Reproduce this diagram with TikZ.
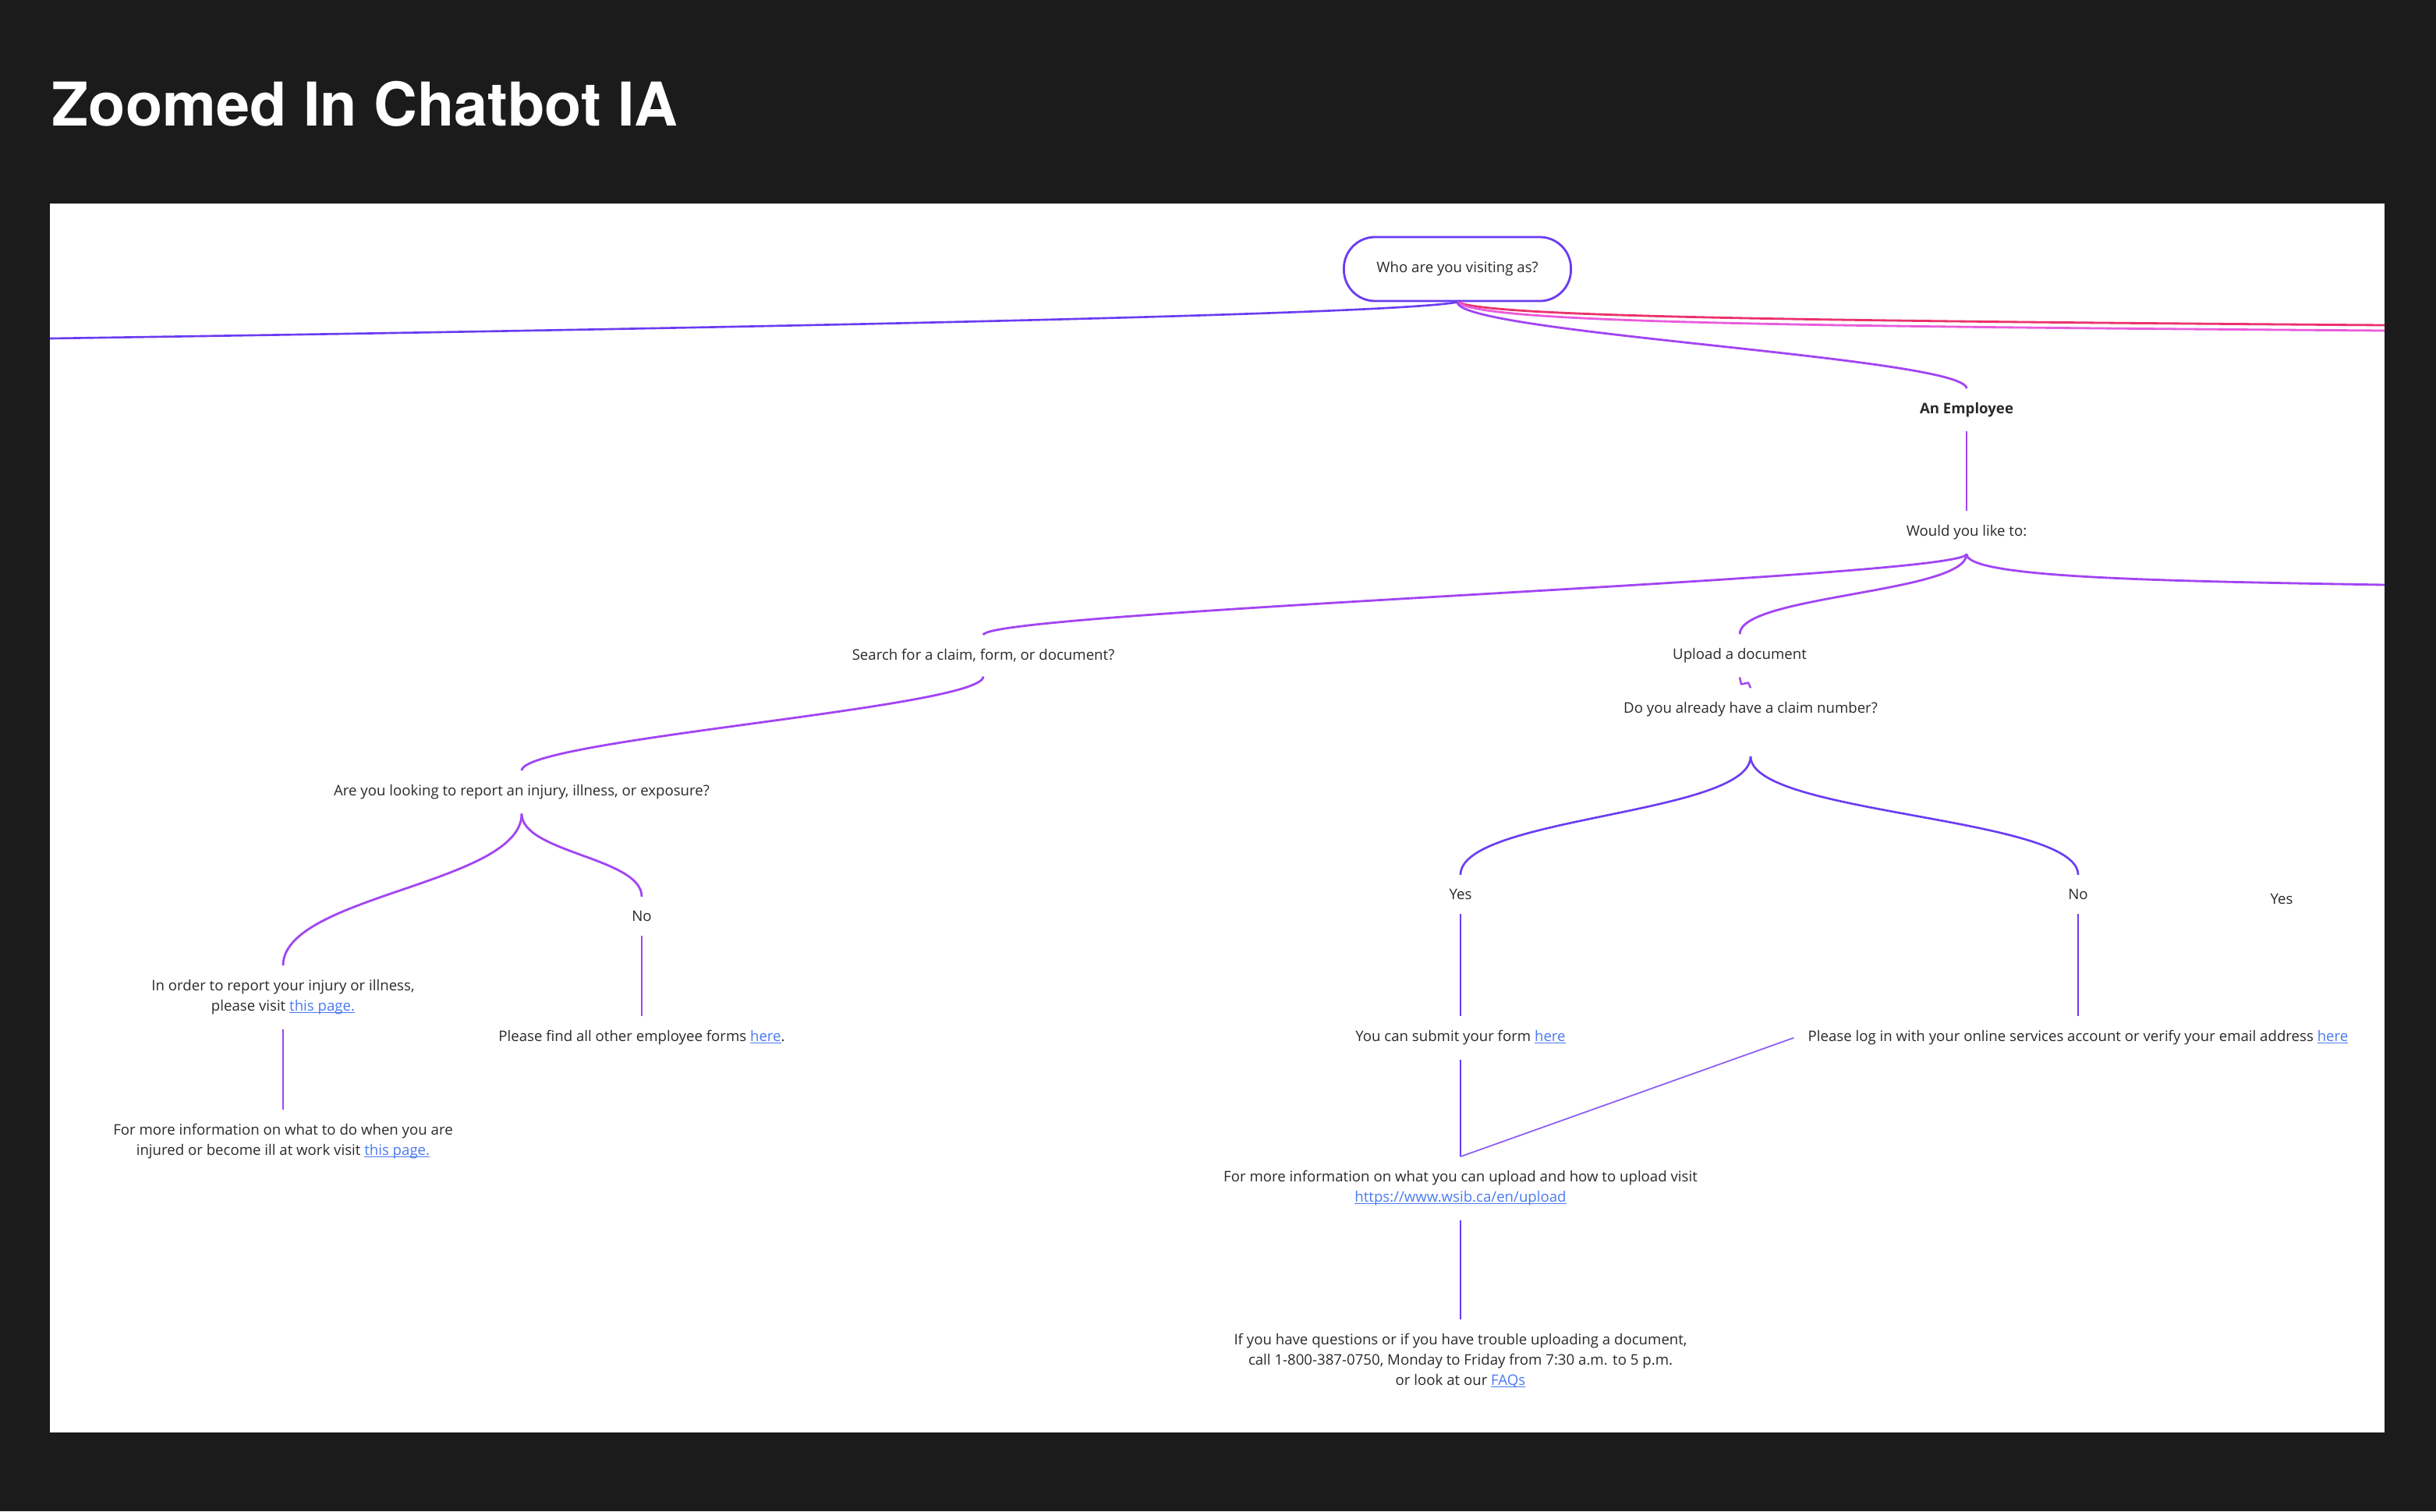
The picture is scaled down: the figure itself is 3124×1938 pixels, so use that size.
\documentclass[tikz,border=0pt]{standalone}
\usepackage{fontspec}
\usepackage{xcolor}
\setmainfont{Open Sans}
\newfontfamily\titlefont{TeX Gyre Heros}
\definecolor{bgdark}{HTML}{1B1B1B}
\definecolor{textgray}{HTML}{2A2A2A}
\definecolor{linkblue}{HTML}{4A7BF0}
\definecolor{bluevio}{HTML}{6B3CF2}
\definecolor{vio}{HTML}{A245F3}
\definecolor{liteviolet}{HTML}{8C5DF6}
\definecolor{crimson}{HTML}{EA336C}
\definecolor{rosepink}{HTML}{E95CDD}
\newsavebox{\lnkbox}
\newcommand{\lnk}[1]{{\color{linkblue}\sbox{\lnkbox}{#1}\rlap{\rule[-0.6pt]{\wd\lnkbox}{0.25pt}}\usebox{\lnkbox}}}

\begin{document}
\begin{tikzpicture}[x=0.01cm, y=-0.01cm, font=\fontsize{5.3}{7.4}\selectfont,
  txt/.style={inner sep=5pt, text=textgray, align=center, yshift=-1.1pt},
  startbox/.style={inner sep=5pt, text=textgray, draw=bluevio, line width=0.8pt, rounded corners=0.4cm, minimum width=2.91cm, minimum height=0.82cm},
  vline/.style={vio, line width=0.8pt},
  bline/.style={bluevio, line width=0.75pt}]
  \useasboundingbox (0,0) rectangle (3124,1938);
  \fill[bgdark] (0,0) rectangle (3124,1938);
  \fill[white] (64,261) rectangle (3058,1837);
  \node[anchor=base west, inner sep=0, text=white, font=\titlefont\bfseries\fontsize{22}{22}\selectfont] (title) at (66,161) {Zoomed In Chatbot IA};
  % top of the tree
  \node[startbox] (who) at (1869,345) {\raisebox{-1.3pt}{Who are you visiting as?}};
  \node[txt, font=\fontsize{5.3}{7.4}\selectfont\bfseries] (employee) at (2522,522) {An Employee};
  \node[txt] (would) at (2522,679) {Would you like to:};
  \node[txt] (search) at (1261,837) {Search for a claim, form, or document?};
  \node[txt] (upload) at (2231,837) {Upload a document};
  \node[txt] (claimq) at (2245,906) {Do you already have a claim number?};
  % left branch
  \node[txt] (report) at (669,1012) {Are you looking to report an injury, illness, or exposure?};
  \node[txt] (noL) at (823,1171) {No};
  \node[txt] (inorder) at (363,1275) {In order to report your injury or illness,\\ please visit \lnk{this page.}};
  \node[txt] (otherforms) at (823,1327) {Please find all other employee forms \lnk{here}.};
  \node[txt] (moreinfoL) at (363,1460) {For more information on what to do when you are\\ injured or become ill at work visit \lnk{this page.}};
  % upload branch
  \node[txt] (yes) at (1873,1143) {Yes};
  \node[txt] (no) at (2665,1143) {No};
  \node[txt] (yesR) at (2926,1149) {Yes};
  \node[txt] (submit) at (1873,1327) {You can submit your form \lnk{here}};
  \node[txt] (login) at (2665,1327) {Please log in with your online services account or verify your email address \lnk{here}};
  \node[txt] (moreinfo) at (1873,1520) {For more information on what you can upload and how to upload visit\\ \lnk{https://www.wsib.ca/en/upload}};
  \node[txt] (questions) at (1873,1741) {If you have questions or if you have trouble uploading a document,\\ call 1-800-387-0750, Monday to Friday from 7:30 a.m. to 5 p.m.\\ or look at our \lnk{FAQs}};
  \coordinate (offL) at (64,434);
  \coordinate (offR1) at (3058,417);
  \coordinate (offR2) at (3058,424);
  \coordinate (offR3) at (3058,750);
  \coordinate (claimfork) at (2245,970);
  % connectors
  \draw[bline] (who.south) .. controls +(-80,15) and +(1000,-15) .. (offL);
  \draw[crimson, line width=0.8pt] (who.south) .. controls +(40,18) and +(-800,-6) .. (offR1);
  \draw[rosepink, line width=0.8pt] (who.south) .. controls +(30,26) and +(-800,-6) .. (offR2);
  \draw[vline] (who.south) .. controls +(0,40) and +(0,-40) .. (employee.north);
  \draw[vio, line width=0.7pt] (employee) -- (would);
  \draw[vline] (would.south) .. controls +(0,30) and +(0,-30) .. (search.north);
  \draw[vline] (would.south) .. controls +(0,50) and +(0,-50) .. (upload.north);
  \draw[vline] (would.south) .. controls +(0,30) and +(-300,-5) .. (offR3);
  \draw[vio, line width=0.7pt, line join=round] (upload.south) -- ++(2,9) -- ++(9,-2) -- (claimq.north);
  \draw[vline] (search.south) .. controls +(0,40) and +(0,-40) .. (report.north);
  \draw[vline] (report.south) .. controls +(0,90) and +(0,-90) .. (inorder.north);
  \draw[vline] (report.south) .. controls +(0,50) and +(0,-50) .. (noL.north);
  \draw[vio, line width=0.7pt] (inorder) -- (moreinfoL);
  \draw[vio, line width=0.7pt] (noL) -- (otherforms);
  \draw[bline] (claimfork) .. controls +(0,75) and +(0,-75) .. (yes.north);
  \draw[bline] (claimfork) .. controls +(0,75) and +(0,-75) .. (no.north);
  \draw[bluevio, line width=0.7pt] (yes) -- (submit);
  \draw[bluevio, line width=0.7pt] (no) -- (login);
  \draw[bluevio, line width=0.7pt] (submit) -- (moreinfo);
  \draw[liteviolet, line width=0.5pt] (login.west) -- (moreinfo.north);
  \draw[bluevio, line width=0.7pt] (moreinfo) -- (questions);
\end{tikzpicture}
\end{document}
